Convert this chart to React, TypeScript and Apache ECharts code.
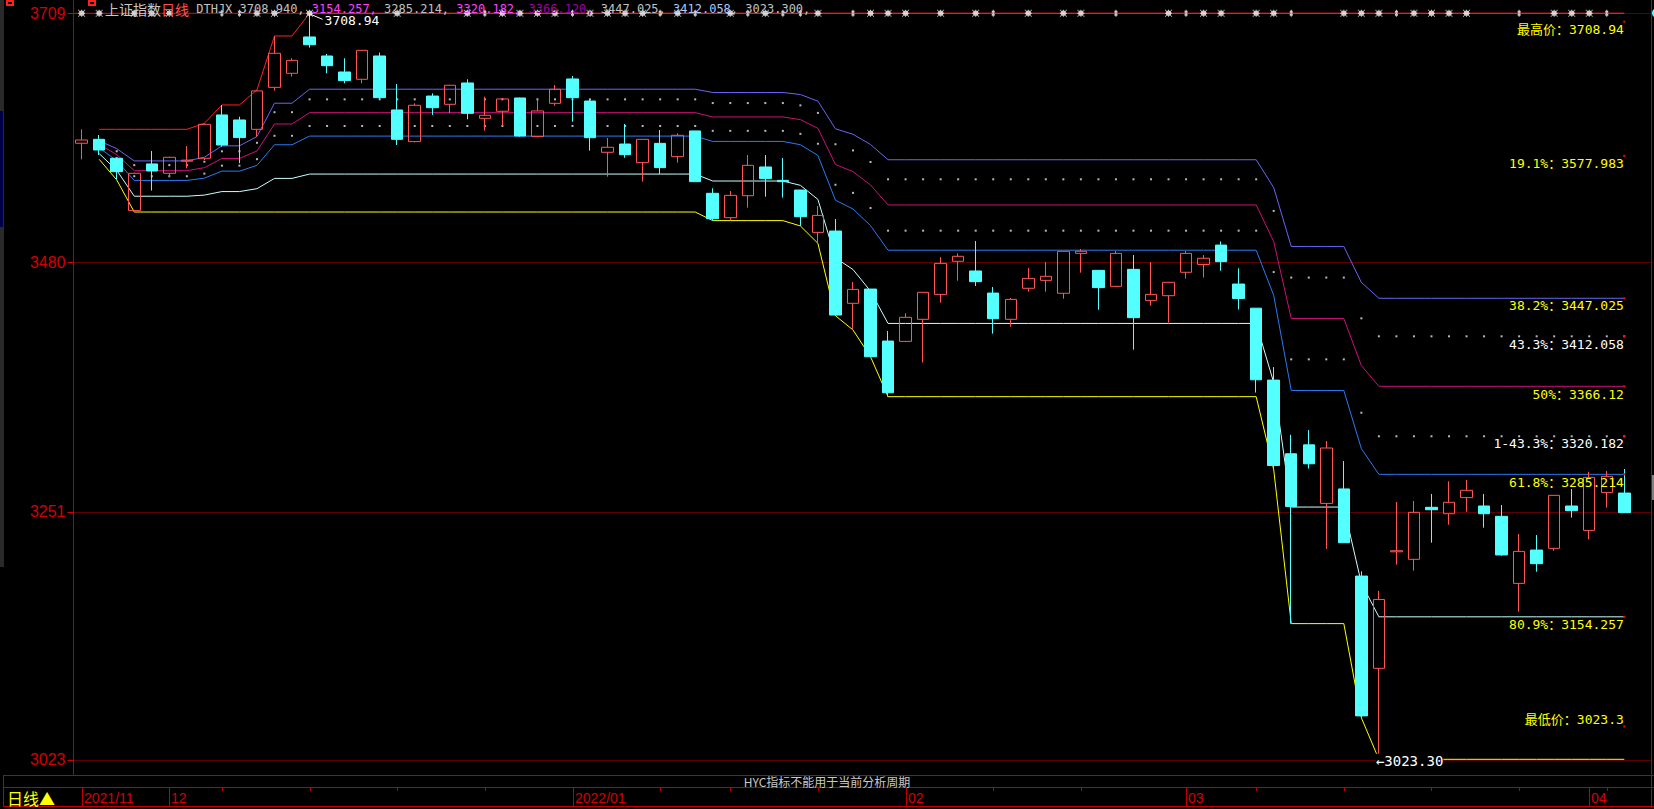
import React, { useEffect, useRef } from "react";
import * as echarts from "echarts";

// ---------- data ----------
const dates = [
  "2021/11/24","2021/11/25","2021/11/26","2021/11/29","2021/11/30",
  "2021/12/01","2021/12/02","2021/12/03","2021/12/06","2021/12/07","2021/12/08","2021/12/09","2021/12/10","2021/12/13","2021/12/14","2021/12/15","2021/12/16","2021/12/17","2021/12/20","2021/12/21","2021/12/22","2021/12/23","2021/12/24","2021/12/27","2021/12/28","2021/12/29","2021/12/30","2021/12/31",
  "2022/01/04","2022/01/05","2022/01/06","2022/01/07","2022/01/10","2022/01/11","2022/01/12","2022/01/13","2022/01/14","2022/01/17","2022/01/18","2022/01/19","2022/01/20","2022/01/21","2022/01/24","2022/01/25","2022/01/26","2022/01/27","2022/01/28",
  "2022/02/07","2022/02/08","2022/02/09","2022/02/10","2022/02/11","2022/02/14","2022/02/15","2022/02/16","2022/02/17","2022/02/18","2022/02/21","2022/02/22","2022/02/23","2022/02/24","2022/02/25","2022/02/28",
  "2022/03/01","2022/03/02","2022/03/03","2022/03/04","2022/03/07","2022/03/08","2022/03/09","2022/03/10","2022/03/11","2022/03/14","2022/03/15","2022/03/16","2022/03/17","2022/03/18","2022/03/21","2022/03/22","2022/03/23","2022/03/24","2022/03/25","2022/03/28","2022/03/29","2022/03/30","2022/03/31",
  "2022/04/01","2022/04/06","2022/04/07",
];

const openP = [
  3589.5,3593.1,3575.7,3527.6,3570.5,3561.9,3573.0,3575.7,3615.5,3610.9,
  3602.3,3640.9,3653.8,3687.2,3669.7,3655.0,3648.3,3669.7,3620.1,3591.0,
  3632.9,3625.3,3644.9,3612.4,3618.9,3631.1,3595.6,3626.2,3648.6,3628.3,
  3581.2,3588.8,3571.7,3589.4,3577.2,3600.8,3543.5,3521.1,3541.3,3567.7,
  3555.4,3546.5,3507.6,3508.8,3442.4,3455.5,3407.7,3407.4,3427.7,3450.6,
  3481.0,3472.1,3451.8,3427.7,3456.2,3463.5,3451.6,3488.3,3472.7,3458.0,
  3473.6,3445.1,3449.4,3470.9,3478.1,3495.9,3460.1,3437.9,3371.8,3304.1,
  3312.3,3258.5,3271.8,3191.7,3106.9,3214.0,3207.1,3254.9,3249.0,3263.8,
  3256.1,3246.6,3185.0,3215.6,3217.2,3256.1,3233.7,3268.6,3268.0,
];
const closeP = [
  3592.5,3583.3,3563.4,3561.9,3564.0,3576.6,3574.0,3606.9,3587.9,3594.7,
  3637.6,3672.2,3665.7,3680.1,3660.8,3647.1,3674.9,3631.4,3593.1,3624.4,
  3622.2,3642.8,3617.0,3615.2,3630.2,3596.2,3619.2,3639.1,3631.4,3594.6,
  3585.8,3579.0,3593.1,3567.1,3596.8,3554.2,3520.2,3541.6,3569.2,3557.0,
  3554.2,3522.0,3523.2,3431.6,3455.2,3393.3,3360.2,3429.5,3452.5,3479.1,
  3485.6,3462.3,3428.3,3446.0,3465.3,3467.2,3490.2,3490.2,3456.8,3488.3,
  3429.2,3450.6,3461.7,3488.3,3483.8,3480.7,3446.8,3372.1,3293.3,3255.6,
  3294.9,3309.4,3222.4,3063.2,3170.2,3215.0,3250.3,3252.7,3259.5,3270.5,
  3249.0,3211.1,3214.4,3203.1,3265.9,3251.8,3282.4,3283.4,3250.0,
];
const lowP = [
  3574.7,3578.7,3555.8,3526.3,3546.0,3558.2,3566.5,3574.1,3586.4,3571.1,
  3595.6,3637.9,3650.7,3677.4,3653.8,3644.6,3644.6,3629.9,3587.9,3590.4,
  3615.5,3617.0,3611.5,3601.1,3605.4,3595.6,3595.0,3624.0,3609.3,3582.7,
  3558.8,3576.2,3554.2,3561.2,3571.7,3554.2,3518.4,3519.0,3530.3,3540.4,
  3539.5,3513.5,3497.5,3431.0,3417.9,3393.3,3356.6,3406.8,3388.0,3443.0,
  3463.2,3458.3,3414.5,3420.9,3453.1,3453.1,3446.6,3470.5,3436.5,3457.4,
  3399.8,3440.2,3424.6,3465.2,3466.1,3472.4,3436.7,3360.4,3289.5,3148.0,
  3290.5,3216.7,3222.4,3061.5,3023.3,3202.2,3196.7,3222.4,3238.9,3250.9,
  3236.2,3210.4,3159.0,3195.7,3215.0,3245.4,3225.5,3254.6,3250.0,
];
const highP = [
  3602.3,3597.1,3576.3,3562.5,3582.4,3577.2,3587.0,3607.8,3624.7,3613.9,
  3638.5,3688.1,3667.6,3708.94,3671.6,3667.6,3675.2,3672.8,3644.0,3626.2,
  3635.4,3643.1,3648.3,3632.3,3631.1,3631.4,3629.3,3643.0,3651.3,3629.3,
  3594.3,3607.2,3593.4,3601.7,3598.6,3600.8,3548.1,3545.6,3578.7,3578.7,
  3575.9,3546.5,3531.8,3519.9,3462.0,3455.5,3417.0,3433.2,3452.5,3484.9,
  3488.3,3499.6,3457.4,3447.3,3474.8,3480.3,3490.5,3492.3,3472.7,3490.5,
  3486.8,3480.3,3462.0,3490.5,3486.7,3499.3,3474.6,3437.9,3383.8,3321.5,
  3325.9,3315.8,3297.4,3196.1,3178.1,3259.8,3260.7,3267.1,3278.8,3280.0,
  3267.1,3257.0,3230.4,3229.4,3266.2,3271.7,3287.6,3288.3,3290.1,
];

const yTickValues = [3709, 3480, 3251, 3023];
const yTickLabels = ["3709", "3480", "3251", "3023"];

const dateLabelIdx = [0, 5, 28, 47, 63, 86];
const dateLabelText = ["2021/11", "12", "2022/01", "02", "03", "04"];
const weekTickIdx = [8, 13, 18, 23, 33, 37, 42, 52, 57, 67, 72, 77, 82, 87];

const starWideIdx = [0,1,3,4,5,10,11,13,18,22,24,25,26,27,29,30,31,32,34,37,39,42,45,46,47,49,51,54,56,57,62,64,65,67,68,72,73,74,76,77,78,79,84,85,86];
const starNarrowIdx = [8,9,23,28,33,35,38,40,41,44,52,59,63,69,75,82,87];

const fibSolidRatios = [0.382, 0.5, 0.618, 0.809];
const fibSolidColors = ["#6666f6", "#cc1177", "#2a7af2", "#c8ffff"];
const fibDottedRatios = [0.433, 0.567];

const levelNames = ["最高价", "19.1%", "38.2%", "43.3%", "50%", "1-43.3%", "61.8%", "80.9%", "最低价"];
const levelValues = [3708.94, 3577.983, 3447.025, 3412.058, 3366.12, 3320.182, 3285.214, 3154.257, 3023.3];
const levelTexts = ["3708.94", "3577.983", "3447.025", "3412.058", "3366.12", "3320.182", "3285.214", "3154.257", "3023.3"];
const levelColors = ["#ffff00", "#ffff00", "#ffff00", "#ffffff", "#ffff00", "#ffffff", "#ffff00", "#ffff00", "#ffff00"];

const headerValues = ["3708.940", "3154.257", "3285.214", "3320.182", "3366.120", "3447.025", "3412.058", "3023.300"];
const headerColorKeys = ["g", "m", "g", "m", "p", "g", "b", "g"];

// ---------- styles ----------
const MONO = '"DejaVu Sans Mono", "Noto Sans CJK SC", monospace';
const CJK = '"Noto Sans CJK SC", sans-serif';
const SANS = '"Liberation Sans", Arial, sans-serif';
const WIDE_STAR = "path://M1,1H6V6H1Z M0,0H1V1H0Z M3,0H4V1H3Z M6,0H7V1H6Z M0,3H1V4H0Z M6,3H7V4H6Z M0,6H1V7H0Z M3,6H4V7H3Z M6,6H7V7H6Z";
const NARROW_STAR = "path://M1,0H2V7H1Z M0,1H3V3H0Z M0,4H3V6H0Z";

export default function App() {
  const ref = useRef<HTMLDivElement>(null);

  useEffect(() => {
    const el = ref.current;
    if (!el) return;
    const chart = echarts.init(el, undefined, { renderer: "svg" });
    const n = dates.length;

    const runMax: number[] = [];
    const runMin: number[] = [];
    let mx = -Infinity;
    let mn = Infinity;
    for (let i = 0; i < n; i++) {
      mx = Math.max(mx, highP[i]);
      mn = Math.min(mn, lowP[i]);
      runMax.push(mx);
      runMin.push(mn);
    }
    const level = (r: number) =>
      runMax.map((h, i) => (i === 0 ? "-" : +(h - r * (h - runMin[i])).toFixed(3)));
    const topV = runMax[n - 1];
    const botV = runMin[n - 1];

    const gridLeft = 72.9;
    const gridTop = 13.3;
    const gridW = 17.53 * n;
    const gridH = 746;

    const series: any[] = [];
    series.push({
      type: "line", data: runMax.map((v, i) => (i === 0 ? "-" : v)), symbol: "none",
      lineStyle: { color: "#ff2020", width: 1 }, z: 2, clip: false, silent: true,
    });
    fibSolidRatios.forEach((r, k) =>
      series.push({
        type: "line", data: level(r), symbol: "none",
        lineStyle: { color: fibSolidColors[k], width: 1 }, z: 2, clip: false, silent: true,
      })
    );
    series.push({
      type: "line", data: runMin.map((v, i) => (i === 0 ? "-" : v)), symbol: "none",
      lineStyle: { color: "#ffff00", width: 1 }, z: 2, clip: false, silent: true,
    });
    fibDottedRatios.forEach((r) => {
      const d = level(r);
      series.push({
        type: "scatter",
        data: d.map((v, i) => [i, v]).filter((p) => p[1] !== "-"),
        symbol: "rect", symbolSize: 2, itemStyle: { color: "#e6e6e6" },
        z: 3, clip: false, silent: true,
      });
    });
    series.push({
      type: "candlestick",
      data: dates.map((_, i) => [openP[i], closeP[i], lowP[i], highP[i]]),
      barWidth: 12,
      itemStyle: {
        color: "transparent", color0: "#54ffff",
        borderColor: "#ff5555", borderColor0: "#54ffff", borderWidth: 1,
      },
      z: 4, clip: false, silent: true,
    });
    series.push({
      type: "scatter", data: starWideIdx.map((i) => [i, topV]), symbol: WIDE_STAR,
      symbolSize: [7, 7], itemStyle: { color: "#ffffff" }, z: 6, clip: false, silent: true,
    });
    series.push({
      type: "scatter", data: starNarrowIdx.map((i) => [i, topV]), symbol: NARROW_STAR,
      symbolSize: [3, 7], itemStyle: { color: "#ffffff" }, z: 6, clip: false, silent: true,
    });

    chart.setOption({
      animation: false,
      backgroundColor: "#000000",
      grid: { left: gridLeft, top: gridTop, width: gridW, height: gridH, containLabel: false },
      xAxis: { type: "category", data: dates, boundaryGap: true, show: false },
      yAxis: { type: "value", min: botV, max: topV, show: false, splitLine: { show: false } },
      series,
    });

    const px = (i: number) => chart.convertToPixel({ xAxisIndex: 0 }, i) as number;
    const py = (v: number) => chart.convertToPixel({ yAxisIndex: 0 }, v) as number;

    const g: any[] = [];
    const line = (x1: number, y1: number, x2: number, y2: number, stroke: string, z = 1) =>
      g.push({ type: "line", silent: true, z, shape: { x1, y1, x2, y2 }, style: { stroke, lineWidth: 1 } });
    const text = (
      t: string, x: number, y: number, fill: string, fontSize: number, fontFamily: string,
      align = "left", z = 10, extra: any = {}
    ) =>
      g.push({
        type: "text", silent: true, z, x, y,
        style: {
          text: t, fill, fontSize, fontFamily, align, verticalAlign: "middle",
          textAlign: align, textVerticalAlign: "middle", ...extra,
        },
      });

    const axisX = 73.5;
    const rightX = 1651.5;
    const lastX = px(n - 1);
    const yTop = py(topV);
    const yBot = py(botV);

    // left tool strip
    g.push({ type: "rect", silent: true, z: 1, shape: { x: 0, y: 0, width: 3, height: 567 }, style: { fill: "#2a2a2a" } });
    g.push({ type: "rect", silent: true, z: 1, shape: { x: 0, y: 111, width: 3, height: 116 }, style: { fill: "#00004a" } });
    line(3.5, 0, 3.5, 567, "#5a1414");

    // grid lines (dark red) and top red line
    yTickValues.forEach((v) => line(axisX, Math.round(py(v)) + 0.5, rightX, Math.round(py(v)) + 0.5, "#5c0000", 0));
    line(axisX, yTop, lastX, yTop, "#e80000", 1);

    // axes frame
    line(axisX, 0, axisX, 775, "#b40000", 1);
    line(rightX, 0, rightX, 808, "#c00000", 1);
    g.push({ type: "rect", silent: true, z: 1, shape: { x: 1652, y: 475, width: 2, height: 25 }, style: { fill: "#808080" } });
    g.push({ type: "circle", silent: true, z: 1, shape: { cx: 1657, cy: 13, r: 5 }, style: { fill: "#54ffff" } });

    // y labels
    yTickValues.forEach((v, k) => {
      const y = py(v);
      text(yTickLabels[k], 65.5, Math.max(y, 9), "#d40000", 16, SANS, "right");
      line(67.5, Math.round(y) + 0.5, axisX, Math.round(y) + 0.5, "#d40000");
    });

    // header
    g.push({ type: "rect", silent: true, z: 10, shape: { x: 7, y: 1, width: 6, height: 4 }, style: { fill: "none", stroke: "#ff2020", lineWidth: 2 } });
    g.push({ type: "rect", silent: true, z: 10, shape: { x: 89, y: 1, width: 6, height: 4 }, style: { fill: "none", stroke: "#ff2020", lineWidth: 2 } });
    let header = "{c|上证指数}{r|日线}{g| DTHJX }";
    headerValues.forEach((v, k) => {
      header += `{${headerColorKeys[k]}|${v},}` + (k < headerValues.length - 1 ? "{g| }" : "");
    });
    const richPart = (fill: string, fontSize: number, fontFamily: string) => ({
      fill, color: fill, fontSize, fontFamily, lineHeight: 14, verticalAlign: "middle",
    });
    g.push({
      type: "text", silent: true, z: 10, x: 105, y: 9,
      style: {
        text: header, fill: "#c0c0c0", fontSize: 12, fontFamily: MONO, lineHeight: 14,
        verticalAlign: "middle", textVerticalAlign: "middle",
        rich: {
          c: richPart("#c8c8c8", 14, CJK),
          r: richPart("#ff5050", 14, CJK),
          g: richPart("#c0c0c0", 12, MONO),
          m: richPart("#ff40ff", 12, MONO),
          p: richPart("#a000a0", 12, MONO),
          b: richPart("#a8c8f8", 12, MONO),
        },
      },
    });

    // peak & trough annotations
    const peakIdx = highP.indexOf(topV);
    const troughIdx = lowP.indexOf(botV);
    const peakX = px(peakIdx);
    line(peakX + 1, yTop + 1, peakX + 13, yTop + 6, "#ffffff", 10);
    text(topV.toFixed(2), peakX + 15, yTop + 7, "#ffffff", 13, MONO);
    text("←" + botV.toFixed(2), px(troughIdx) - 3, yBot + 1.5, "#ffffff", 14, MONO, "left", 10, {
      backgroundColor: "#000000",
    });

    // right level labels
    const dotMin = gridTop + 8.4;
    const dotMax = gridTop + gridH - 32.8;
    levelValues.forEach((v, k) => {
      const dotY = Math.min(Math.max(py(v), dotMin), dotMax);
      const cy = k === levelValues.length - 1 ? dotY - 7.2 : dotY + 7.7;
      text(`${levelNames[k]}：${levelTexts[k]}`, lastX - 0.5, cy, levelColors[k], 13, MONO, "right", 10);
      g.push({ type: "rect", silent: true, z: 10, shape: { x: lastX - 1, y: dotY - 1, width: 2, height: 2 }, style: { fill: "#ff0000" } });
    });

    // bottom strip
    line(3, 775.5, 1654, 775.5, "#c00000");
    line(3, 787.5, 1654, 787.5, "#c00000");
    line(3, 806.5, 1654, 806.5, "#c00000");
    line(3.5, 775, 3.5, 807, "#c00000");
    text("HYC指标不能用于当前分析周期", 827, 781.5, "#c8c8c8", 12, CJK, "center");
    text("日线▲", 7, 797.5, "#ffff00", 16, CJK, "left");
    dateLabelIdx.forEach((idx, k) => {
      const x = Math.round(px(idx)) + 0.5;
      line(x, 787.5, x, 806.5, "#c00000");
      text(dateLabelText[k], x + 1.5, 797.5, "#d40000", 14, SANS, "left");
    });
    weekTickIdx.forEach((idx) => {
      const x = Math.round(px(idx)) + 0.5;
      line(x, 787.5, x, 791, "#c00000");
    });

    chart.setOption({ graphic: { elements: g } });

    return () => {
      chart.dispose();
    };
  }, []);

  return (
    <div
      ref={ref}
      style={{ position: "absolute", left: 0, top: 0, width: 1654, height: 809, background: "#000" }}
    />
  );
}
